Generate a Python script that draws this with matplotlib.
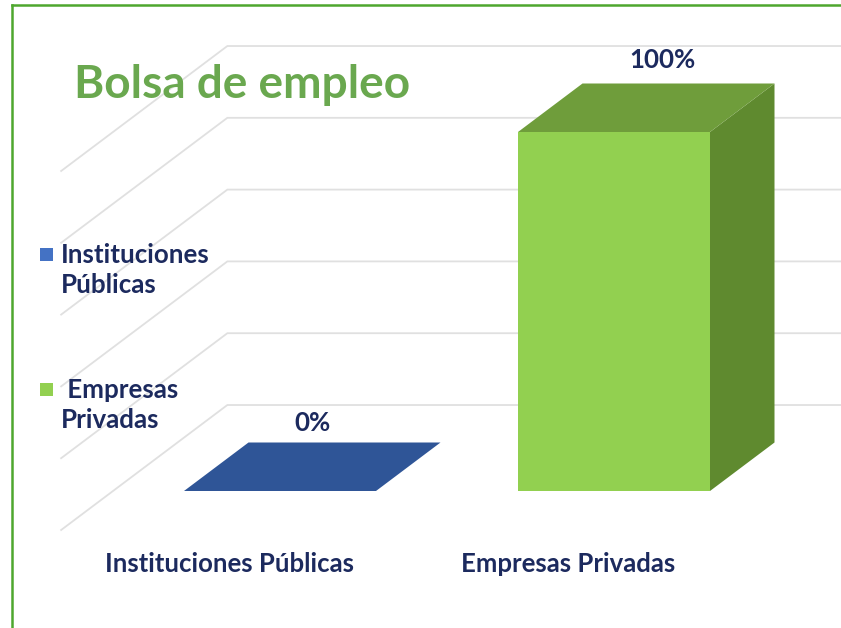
import matplotlib
matplotlib.use('Agg')
import matplotlib.pyplot as plt
from matplotlib.patches import Polygon, Rectangle
from matplotlib.transforms import Affine2D

categories = ['Instituciones Públicas', 'Empresas Privadas']
values = [0, 100]
value_labels = ['0%', '100%']
grid_values = [0, 20, 40, 60, 80, 100]
legend_labels = ['Instituciones\nPúblicas', ' Empresas\nPrivadas']
title = 'Bolsa de empleo'

W, H = 841, 628
navy = '#1c2a5e'
grid_col = '#e0e0e0'
front_cols = ['#4472c4', '#92d050']
top_cols = ['#2f5597', '#6f9d3b']
side_cols = ['#2f5597', '#5f8a2f']

# 334 px per category, 3.59 px per percent
X_PX = 334.0
Y_PX = 3.59
X0 = 280.0
Y0 = 491.0
BAR_W = 192 / X_PX
DX = 64.5 / X_PX
DY = 48.5 / Y_PX

plt.rcParams['font.family'] = ['Lato', 'DejaVu Sans']

fig = plt.figure(figsize=(W / 100, H / 100), dpi=100)
ax = fig.add_axes([0, 0, 1, 1])
ax.set_xlim(-X0 / X_PX, (W - X0) / X_PX)
ax.set_ylim(-(H - Y0) / Y_PX, Y0 / Y_PX)
ax.axis('off')

# pixel coords of the picture, y going down
px = Affine2D().scale(1, -1).translate(0, H)


def proj(x, v, z):
    return (x + z * DX, v + z * DY)


# walls
for v in grid_values:
    a = proj(-0.5, v, -0.804)
    b = proj(-0.5, v, 1.773)
    c = proj(2.0, v, 1.773)
    ax.plot([a[0], b[0], c[0]], [a[1], b[1], c[1]], color=grid_col, lw=1.3, zorder=1,
            solid_joinstyle='miter')

# bars
for i, v in enumerate(values):
    l = i - BAR_W / 2
    r = i + BAR_W / 2
    if v > 0:
        ax.add_patch(Polygon([proj(r, 0, 0), proj(r, 0, 1), proj(r, v, 1), proj(r, v, 0)],
                             fc=side_cols[i], ec='none', zorder=3))
        ax.add_patch(Rectangle((l, 0), BAR_W, v, fc=front_cols[i], ec='none', zorder=3))
    ax.add_patch(Polygon([proj(l, v, 0), proj(r, v, 0), proj(r, v, 1), proj(l, v, 1)],
                         fc=top_cols[i], ec='none', zorder=3))

label_off = [(0, 44), (16, 48)]
for i, v in enumerate(values):
    cx, cy = proj(i, v, 0.5)
    ax.annotate(value_labels[i], (cx, cy), xytext=label_off[i], textcoords='offset pixels',
                ha='center', va='center', fontsize=18.6, fontweight='bold', color=navy, zorder=5)

# category labels
cat_x = [229.5, 568.5]
for name, x in zip(categories, cat_x):
    ax.text(x, 564, name, transform=px, ha='center', va='center', fontsize=18.5,
            fontweight='bold', color=navy, zorder=5)

# legend
leg_y = [254, 389]
for i, lab in enumerate(legend_labels):
    ax.add_patch(Rectangle((40, leg_y[i] - 6), 13, 13, transform=px, fc=front_cols[i], ec='none', zorder=5))
    ax.text(61, leg_y[i] + 16, lab, transform=px, ha='left', va='center', fontsize=18.6,
            fontweight='bold', color=navy, linespacing=1.27, zorder=5)

ax.text(74, 85, title, transform=px, ha='left', va='center', fontsize=33.1,
        fontweight='bold', color='#6aa84f', zorder=5)

# outer frame, cut off on the right and bottom
ax.plot([11.5, 11.5], [H, 5], transform=px, color='#4ea72e', lw=1.8, zorder=6, clip_on=False)
ax.plot([11.5, W], [5, 5], transform=px, color='#4ea72e', lw=1.8, zorder=6, clip_on=False)

fig.savefig('out.png', dpi=100)
